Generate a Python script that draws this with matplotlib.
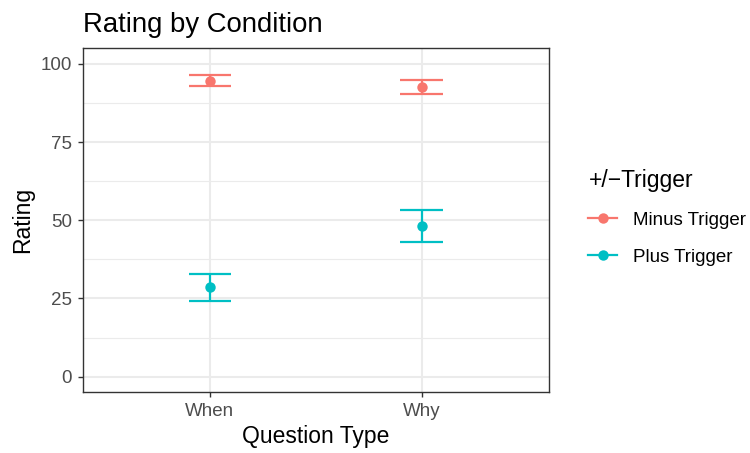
import numpy as np
import matplotlib.pyplot as plt
from matplotlib.lines import Line2D

plt.rcParams['font.family'] = ['Liberation Sans', 'DejaVu Sans']

categorias = ["When", "Why"]
grupos = ["Minus Trigger", "Plus Trigger"]
colores = ["#F8766D", "#00BFC4"]
media = {"Minus Trigger": [94.7, 92.7], "Plus Trigger": [28.7, 48.2]}
sup = {"Minus Trigger": [96.5, 94.9], "Plus Trigger": [32.9, 53.3]}
inf = {"Minus Trigger": [93.1, 90.4], "Plus Trigger": [24.3, 43.1]}

fig = plt.figure(figsize=(7.5, 4.53), dpi=100)
ax = fig.add_axes([0.1103, 0.134, 0.6213, 0.7594])

x = np.arange(1, len(categorias) + 1)
for g, c in zip(grupos, colores):
    for xi, m, s, i in zip(x, media[g], sup[g], inf[g]):
        ax.plot([xi, xi], [i, s], color=c, lw=1.6, zorder=3, solid_capstyle='butt')
        ax.plot([xi - 0.1, xi + 0.1], [s, s], color=c, lw=1.6, zorder=3, solid_capstyle='butt')
        ax.plot([xi - 0.1, xi + 0.1], [i, i], color=c, lw=1.6, zorder=3, solid_capstyle='butt')
    ax.plot(x, media[g], 'o', color=c, ms=7.5, zorder=4, mec='none')

ax.set_xlim(0.4, 2.6)
ax.set_ylim(-5, 105)
ax.set_xticks(x)
ax.set_xticklabels(categorias)
ax.set_yticks([0, 25, 50, 75, 100])
ax.set_yticks([12.5, 37.5, 62.5, 87.5], minor=True)
ax.grid(True, which='major', color='#EBEBEB', lw=1.5, zorder=0)
ax.grid(True, which='minor', axis='y', color='#EBEBEB', lw=0.8, zorder=0)
ax.set_axisbelow(True)
for sp in ax.spines.values():
    sp.set_color('#333333')
    sp.set_linewidth(1.0)
ax.tick_params(axis='both', which='major', colors='#333333', labelcolor='#4D4D4D',
               labelsize=13.5, length=3.6, width=1.0, pad=4)
ax.tick_params(axis='both', which='minor', length=0)

ax.set_xlabel("Question Type", fontsize=16.5, labelpad=4)
ax.set_ylabel("Rating", fontsize=16.5, labelpad=5)
ax.set_title("Rating by Condition", fontsize=19.8, loc='left', pad=12)

handles = [Line2D([0], [0], color=c, lw=1.6, marker='o', ms=7.5, mec='none') for c in colores]
leg = fig.legend(handles, grupos, title="+/\u2212Trigger", loc='center left',
                 bbox_to_anchor=(0.772, 0.52), frameon=False, fontsize=13.5,
                 title_fontsize=16.5, handlelength=1.55, handletextpad=0.85,
                 labelspacing=1.05, borderpad=0)
leg._legend_box.align = "left"

fig.savefig("out.png", dpi=100)
